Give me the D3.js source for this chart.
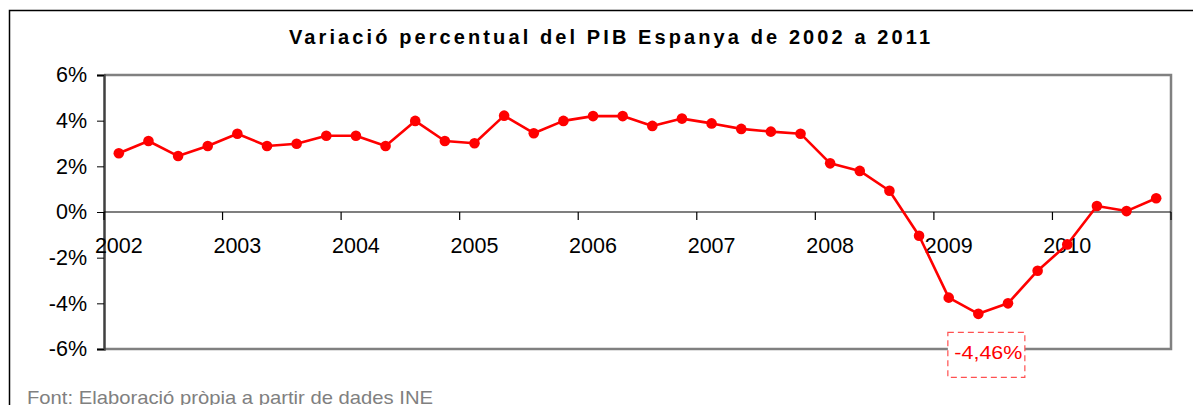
<!DOCTYPE html>
<html><head><meta charset="utf-8">
<script src="https://cdn.jsdelivr.net/npm/d3@7"></script>
<style>body{margin:0;background:#fff}svg{display:block}text{font-family:"Liberation Sans",Arial,sans-serif}</style>
</head><body><svg id="c" width="1193" height="405"></svg>
<script>
const title = "Variació percentual del PIB Espanya de 2002 a 2011";
const source = "Font: Elaboració pròpia a partir de dades INE";
const years = ["2002","2003","2004","2005","2006","2007","2008","2009","2010"];
const quarters = ["T1","T2","T3","T4"];
const values = [2.57,3.11,2.45,2.89, 3.43,2.89,2.99,3.34, 3.34,2.89,3.99,3.11,
                3.01,4.22,3.45,3.99, 4.20,4.20,3.77,4.09, 3.88,3.64,3.52,3.43,
                2.13,1.80,0.93,-1.04, -3.75,-4.46,-4.00,-2.57, -1.42,0.26,0.04,0.60];
const yTicks = [-6,-4,-2,0,2,4,6];
const annotIndex = 29;
const annotLabel = "-4,46%";

const categories = [];
years.forEach(y => quarters.forEach(q => categories.push(y + " " + q)));

const svg = d3.select("#c");
const L = 104, R = 1171, T = 75, B = 349;
const x = d3.scaleBand().domain(categories).range([L, R]).padding(0);
const bw = x.bandwidth();
const cx = i => x(categories[i]) + bw / 2;
const y = d3.scaleLinear().domain([-6, 6]).range([B, T]);

// outer chart border
svg.append("rect").attr("x", 9.5).attr("y", 10.5).attr("width", 1300).attr("height", 500)
  .attr("fill", "none").attr("stroke", "#000").attr("stroke-width", 1.5);

// title
svg.append("text").attr("x", 289).attr("y", 44)
  .attr("font-size", 20).attr("font-weight", "bold")
  .attr("textLength", 641).attr("lengthAdjust", "spacing")
  .attr("fill", "#000").text(title);

// plot frame (top, right, bottom gray)
svg.append("path").attr("d", `M${L},${T}H${R}V${B}H${L}`).attr("fill", "none")
  .attr("stroke", "#808080").attr("stroke-width", 2.5);

// y axis
const yAxis = d3.axisLeft(y).tickValues(yTicks).tickSize(7).tickPadding(10)
  .tickFormat(d => d + "%");
const gy = svg.append("g").attr("transform", `translate(${L},0)`).call(yAxis);
gy.select(".domain").attr("stroke", "#404040").attr("stroke-width", 2.5);
gy.selectAll(".tick line").attr("stroke", "#000");
gy.selectAll("text").attr("font-size", 21.5).attr("fill", "#000")
  .attr("font-family", "'Liberation Sans',Arial,sans-serif");

// zero line with category ticks
svg.append("line").attr("x1", L).attr("x2", R).attr("y1", y(0)).attr("y2", y(0))
  .attr("stroke", "#000").attr("stroke-width", 1.2);
const groupStarts = years.map((yr, k) => k * 4);
svg.selectAll(".xt").data(groupStarts.concat([categories.length])).enter().append("line")
  .attr("x1", d => d < categories.length ? x(categories[d]) : R)
  .attr("x2", d => d < categories.length ? x(categories[d]) : R)
  .attr("y1", y(0)).attr("y2", y(0) + 8).attr("stroke", "#000").attr("stroke-width", 1.2);
svg.selectAll(".xl").data(years).enter().append("text")
  .attr("x", (d, k) => cx(k * 4)).attr("y", y(0) + 41).attr("text-anchor", "middle")
  .attr("font-size", 21.5).attr("fill", "#000").text(d => d);

// series line
const line = d3.line().x((d, i) => cx(i)).y(d => y(d));
svg.append("path").datum(values).attr("d", line).attr("fill", "none")
  .attr("stroke", "#ff0000").attr("stroke-width", 2.6).attr("stroke-linejoin", "round");
svg.selectAll(".pt").data(values).enter().append("circle")
  .attr("cx", (d, i) => cx(i)).attr("cy", d => y(d)).attr("r", 5.3).attr("fill", "#ff0000");

// annotation
const ax = cx(annotIndex) + 8, ay = y(values[annotIndex]);
svg.append("rect").attr("x", ax - 38.5).attr("y", ay + 18.5).attr("width", 77).attr("height", 45)
  .attr("fill", "#fff").attr("stroke", "#ff5050").attr("stroke-width", 1.2)
  .attr("stroke-dasharray", "6,4");
svg.append("text").attr("x", ax + 2).attr("y", ay + 45).attr("text-anchor", "middle")
  .attr("font-size", 19).attr("fill", "#ff0000")
  .attr("textLength", 68).attr("lengthAdjust", "spacingAndGlyphs").text(annotLabel);

// source
svg.append("text").attr("x", 27).attr("y", 404).attr("font-size", 19).attr("fill", "#808080")
  .attr("textLength", 406).attr("lengthAdjust", "spacingAndGlyphs").text(source);
</script></body></html>
